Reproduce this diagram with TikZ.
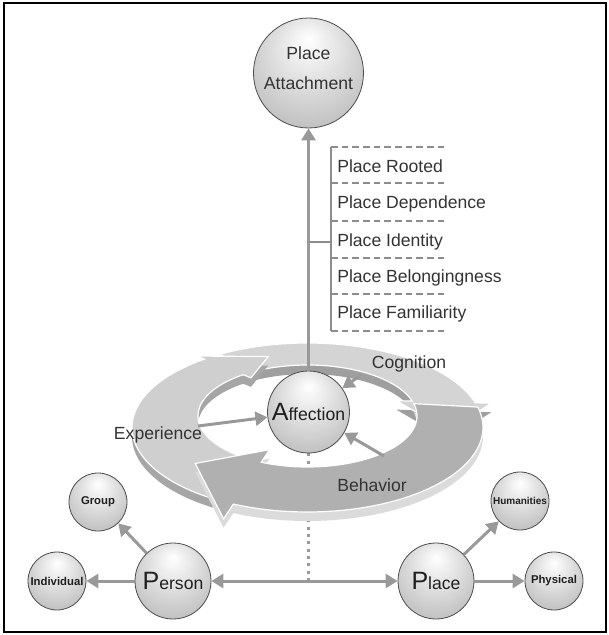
\documentclass[tikz,border=0pt]{standalone}
\usepackage{fontspec}
\setmainfont{Liberation Sans}
\usetikzlibrary{arrows.meta,backgrounds}
\pgfdeclareradialshading{sph}{\pgfpoint{0bp}{16bp}}{color(0bp)=(white); color(14bp)=(gray!22); color(32bp)=(gray!50); color(44bp)=(gray!74); color(50bp)=(gray!88)}
\pgfmathdeclarefunction{rgx}{2}{\pgfmathparse{307.5+(109.5+66*(#2))*cos(#1)}}
\pgfmathdeclarefunction{rgy}{2}{\pgfmathparse{416+11.5*(#2)-(51+33.5*(#2))*sin(#1)}}
% #1 options, #2 tail angle, #3 head base angle, #4 tip angle, #5 inner barb t, #6 outer barb t
\newcommand\ringarrow[6]{%
  \fill[#1] plot[domain=#2:#3, samples=50] ({rgx(\x,1)},{rgy(\x,1)})
    -- ({rgx(#3,#6)},{rgy(#3,#6)}) -- ({rgx(#4,0.5)},{rgy(#4,0.5)})
    -- ({rgx(#3,#5)},{rgy(#3,#5)})
    -- plot[domain=#3:#2, samples=50] ({rgx(\x,0)},{rgy(\x,0)}) -- cycle;}
\newcommand\fmain{\fontsize{13.2pt}{16pt}\selectfont}
\newcommand\fbig{\fontsize{18.8pt}{20pt}\selectfont}
\newcommand\fsmall{\fontsize{8.5pt}{10pt}\selectfont\bfseries}
\newcommand\ftiny{\fontsize{7.5pt}{9pt}\selectfont\bfseries}
\begin{document}
\begin{tikzpicture}[x=0.75pt,y=-0.75pt,
  sphere/.style={circle, shading=sph, draw=black!70, line width=0.6pt, inner sep=0pt, text=black!88},
  bigsph/.style={sphere, minimum size=82.5pt},
  midsph/.style={sphere, minimum size=61.5pt, font=\fmain},
  pssph/.style={sphere, minimum size=57pt, font=\fmain},
  smsph/.style={sphere, minimum size=43.5pt, font=\fsmall},
  arr/.style={draw=black!40, line width=2.25pt, -{Triangle[length=9pt,width=10.5pt]}},
  arrboth/.style={draw=black!40, line width=2.25pt, {Triangle[length=9pt,width=10.5pt]}-{Triangle[length=9pt,width=10.5pt]}},
  lbl/.style={text=black!80, font=\fmain, inner sep=0pt},
  listtxt/.style={lbl, anchor=west},
  dashln/.style={draw=black!45, line width=1pt, dash pattern=on 5pt off 3pt},
  solidln/.style={draw=black!45, line width=1pt},
  dotln/.style={draw=black!40, line width=2.25pt, dash pattern=on 2.2pt off 3.3pt},
  ringside/.style={yshift=-6.75pt},
  ringtop/.style={draw=white, line width=0.9pt}
]
\useasboundingbox (0,0) rectangle (609,635);
\draw[line width=1.5pt] (3.5,3.5) rectangle (606,632);

% nodes
\node[bigsph] (pa) at (308.5,73) {};
\node[lbl, align=center, font=\fontsize{13.2pt}{22.5pt}\selectfont] (patxt) at (308.5,68) {Place\\Attachment};
\node[midsph] (aff) at (308.5,412) {{\fbig A}ffection};
\node[pssph] (person) at (173,581) {{\fbig P}erson};
\node[pssph] (place) at (436,581) {{\fbig P}lace};
\node[smsph] (indiv) at (57,581) {Individual};
\node[smsph] (group) at (98,502) {Group};
\node[smsph, font=\ftiny] (hum) at (520,501) {Humanities};
\node[smsph] (phys) at (554,581) {Physical};
\coordinate (mid) at (308.5,581);

% ring and dotted line behind
\begin{pgfonlayer}{background}
\draw[dotln] (aff.south) -- (mid);
\ringarrow{gray!75, ringside}{120}{17}{-8}{-0.25}{1.25}
\ringarrow{gray!34, ringtop}{120}{17}{-8}{-0.25}{1.25}
\ringarrow{gray!70, ringside}{238}{126}{106}{-0.2}{1.2}
\ringarrow{gray!38, ringtop}{238}{126}{106}{-0.2}{1.2}
\ringarrow{gray!28, ringside}{14}{-115}{-142}{-0.3}{1.35}
\ringarrow{gray!62, ringtop}{14}{-115}{-142}{-0.3}{1.35}
\end{pgfonlayer}

% arrows into Affection
\coordinate (ex0) at (198,426);
\coordinate (co0) at (361,375);
\coordinate (be0) at (384,456);
\draw[arr] (ex0) -- (aff);
\draw[arr] (co0) -- (aff);
\draw[arr] (be0) -- (aff);

% ring labels
\node[lbl] (cog) at (409,364) {Cognition};
\node[lbl] (exp) at (158,435) {Experience};
\node[lbl] (beh) at (372,485) {Behavior};

% main vertical arrow
\draw[arr] (aff) -- (pa);

% list
\coordinate (br) at (308.5,242);
\coordinate (vb) at (331,242);
\draw[solidln] (br) -- (vb);
\draw[solidln] (331,147) -- (331,331);
\foreach \yy in {147,183,221,258,294,331} {\draw[dashln] (331,\yy) -- (448,\yy);}
\node[listtxt] (l1) at (337,166) {Place Rooted};
\node[listtxt] (l2) at (337,204) {Place Dependence};
\node[listtxt] (l3) at (337,242) {Place Identity};
\node[listtxt] (l4) at (337,278) {Place Belongingness};
\node[listtxt] (l5) at (337,314) {Place Familiarity};

% bottom arrows
\draw[arrboth] (person) -- (place);
\draw[arr] (person) -- (indiv);
\draw[arr] (person) -- (group);
\draw[arr] (place) -- (hum);
\draw[arr] (place) -- (phys);
\end{tikzpicture}
\end{document}
